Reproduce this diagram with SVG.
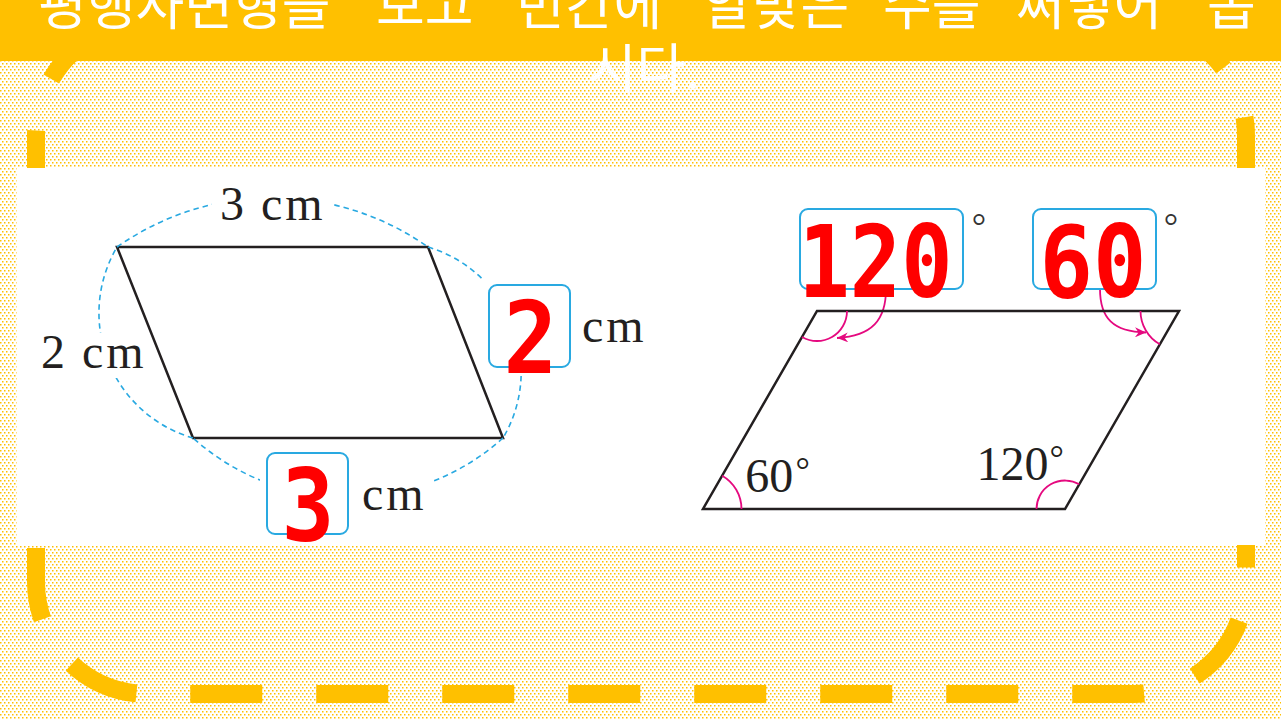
<svg xmlns="http://www.w3.org/2000/svg" width="1281" height="720" viewBox="0 0 1281 720">
  <style>
    .frame { fill: none; stroke: #FFC000; stroke-width: 18; stroke-dasharray: 72 54; }
    .title { font-family: "Noto Sans CJK KR", "Noto Sans", sans-serif; font-size: 53px; fill: #FFFFFF; }
    .lbl { font-family: "Liberation Serif", "Times New Roman", serif; font-size: 48px; fill: #231F20; }
    .cm { letter-spacing: 3px; }
    .deg { font-family: "Liberation Serif", "Times New Roman", serif; font-size: 36px; fill: #231F20; text-anchor: middle; }
    .ans { font-family: "DejaVu Sans Mono", "Liberation Mono", monospace; font-weight: bold; font-size: 100px; fill: #FF0000; text-anchor: middle; }
    .box { fill: #FFFFFF; stroke: #29A9E1; stroke-width: 2; }
    .mask { fill: #FFFFFF; }
    .shape { fill: none; stroke: #231F20; stroke-width: 2.5; stroke-linejoin: miter; }
    .guide { fill: none; stroke: #29A9E1; stroke-width: 1.6; stroke-dasharray: 5.5 4; }
    .angle { fill: none; stroke: #E5097F; stroke-width: 1.8; }
  </style>
  <defs>
    <pattern id="dots" width="4" height="6" patternUnits="userSpaceOnUse">
      <rect width="4" height="6" fill="#FFFFFF"/>
      <rect x="0" y="0" width="1.5" height="1.5" fill="#FFC000"/>
      <rect x="2" y="3" width="1.5" height="1.5" fill="#FFC000"/>
    </pattern>
    <marker id="arrow" markerWidth="12" markerHeight="10" refX="11" refY="5" orient="auto" markerUnits="userSpaceOnUse">
      <path d="M0,0 L11,5 L0,10 L3.5,5 Z" fill="#E5097F"/>
    </marker>
  </defs>

  <!-- background -->
  <rect x="0" y="0" width="1281" height="720" fill="url(#dots)"/>

  <!-- dashed frame -->
  <g id="frame">
    <path class="frame" d="M36,548 V582 A112,112 0 0 0 148,694 H1134 A112,112 0 0 0 1246,582 V540"/>
    <path class="frame" style="stroke-dashoffset:27.1" d="M1246,540 V135.5 A112,112 0 0 0 1134,23.5 H148 A112,112 0 0 0 36,135.5 V540"/>
  </g>

  <!-- white panel -->
  <rect id="panel" x="16.5" y="168" width="1248.5" height="377" fill="#FFFFFF"/>

  <!-- title banner -->
  <g id="banner">
    <rect x="0" y="0" width="1281" height="61" fill="#FFC000"/>
    <text class="title" y="24.5"><tspan x="38">평행사변형을</tspan><tspan x="376">보고</tspan><tspan x="516">빈칸에</tspan><tspan x="703">알맞은</tspan><tspan x="883">수를</tspan><tspan x="1016">써넣어</tspan><tspan x="1207">봅</tspan></text>
    <text class="title" x="644" y="88" text-anchor="middle">시다.</text>
  </g>

  <!-- left figure: parallelogram -->
  <g id="left-parallelogram">
    <polygon class="shape" points="117,247 428,247 503,438 193,438"/>
  </g>

  <!-- connectors: dashed guide arcs and pink arrows -->
  <g id="connectors">
    <path class="guide" d="M117,247 A270,270 0 0 1 428,247"/>
    <path class="guide" d="M428,247 A130,130 0 0 1 503,438"/>
    <path class="guide" d="M503,438 A232,232 0 0 1 193,438"/>
    <path class="guide" d="M193,438 A130,130 0 0 1 117,247"/>
    <path class="angle" d="M886,289 C886,320 872,336 837,338" marker-end="url(#arrow)"/>
    <path class="angle" d="M1100,289 C1100,318 1113,332 1146,332.5" marker-end="url(#arrow)"/>
  </g>

  <!-- left labels -->
  <g id="label-top">
    <rect class="mask" x="212" y="180" width="122" height="48"/>
    <text class="lbl" x="220" y="220" word-spacing="5"><tspan>3</tspan> <tspan class="cm">cm</tspan></text>
  </g>
  <g id="label-left">
    <rect class="mask" x="38" y="333" width="111" height="45"/>
    <text class="lbl" x="41" y="368" word-spacing="5"><tspan>2</tspan> <tspan class="cm">cm</tspan></text>
  </g>
  <g id="answer-right">
    <rect class="mask" x="483" y="279" width="93" height="94"/>
    <rect class="box" x="489" y="285" width="81" height="82" rx="8"/>
    <text class="ans" x="530.5" y="373" textLength="54" lengthAdjust="spacingAndGlyphs">2</text>
    <text class="lbl cm" x="582" y="342">cm</text>
  </g>
  <g id="answer-bottom">
    <rect class="mask" x="260" y="458" width="174" height="87"/>
    <rect class="box" x="267" y="453" width="81" height="81" rx="8"/>
    <text class="ans" x="308" y="541" textLength="53" lengthAdjust="spacingAndGlyphs">3</text>
    <text class="lbl cm" x="362" y="510">cm</text>
  </g>

  <!-- right figure -->
  <g id="right-parallelogram">
    <polygon class="shape" points="817,311 1179,311 1065,509 703,509"/>
    <path class="angle" d="M847,311 A30,30 0 0 1 802,337"/>
    <path class="angle" d="M1140.5,311 A38.5,38.5 0 0 0 1159.8,344.3"/>
    <path class="angle" d="M741.5,509 A38.5,38.5 0 0 0 722.2,475.7"/>
    <path class="angle" d="M1036.5,509 A28.5,28.5 0 0 1 1079.2,484.3"/>
  </g>
  <g id="angle-bl">
    <text class="lbl" x="769.2" y="492" text-anchor="middle">60</text>
    <text class="deg" x="802.7" y="482">°</text>
  </g>
  <g id="angle-br">
    <text class="lbl" x="1012.5" y="480" text-anchor="middle">120</text>
    <text class="deg" x="1056.7" y="470">°</text>
  </g>
  <g id="answer-tl">
    <rect class="box" x="800" y="209" width="163" height="80" rx="8"/>
    <text class="ans" x="875.5" y="297" textLength="154" lengthAdjust="spacingAndGlyphs">120</text>
    <text class="deg" x="979" y="238" style="fill:#333333">°</text>
  </g>
  <g id="answer-tr">
    <rect class="box" x="1033" y="209" width="123" height="80" rx="8"/>
    <text class="ans" x="1093" y="297" textLength="107" lengthAdjust="spacingAndGlyphs">60</text>
    <text class="deg" x="1171" y="238" style="fill:#333333">°</text>
  </g>
</svg>
